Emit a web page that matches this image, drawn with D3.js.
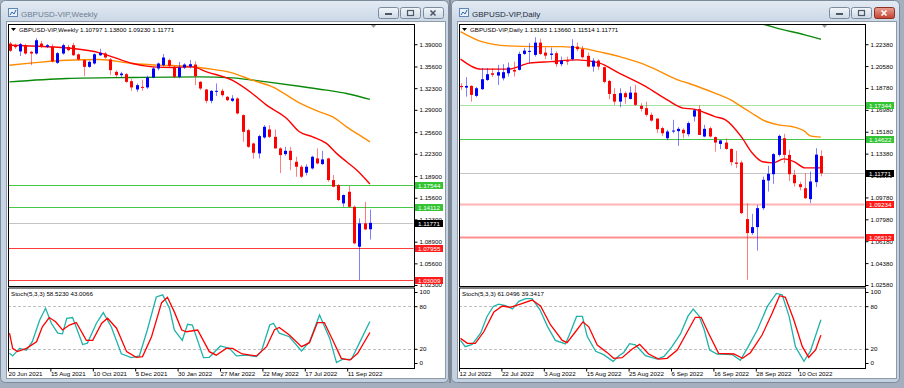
<!DOCTYPE html>
<html>
<head>
<meta charset="utf-8">
<script src="https://cdn.jsdelivr.net/npm/d3@7"></script>
<style>
html, body { margin: 0; padding: 0; background: #a3afbe; }
svg { display: block; }
text { font-family: "Liberation Sans", Arial, sans-serif; }
</style>
</head>
<body>
<script>
// ---- weekly GBPUSD bars: open, high, low, close ----
var weeklyBars = [
  [1.3910,1.3935,1.3783,1.3800],[1.3885,1.3910,1.3830,1.3855],[1.3790,1.3920,1.3720,1.3900],[1.3885,1.3905,1.3740,1.3758],
  [1.3783,1.3800,1.3580,1.3758],[1.3758,1.3990,1.3740,1.3960],[1.3910,1.3950,1.3840,1.3870],[1.3860,1.3905,1.3840,1.3885],
  [1.3859,1.3900,1.3620,1.3640],[1.3616,1.3780,1.3600,1.3763],[1.3758,1.3910,1.3740,1.3885],[1.3859,1.3890,1.3790,1.3809],
  [1.3885,1.3920,1.3720,1.3732],[1.3745,1.3760,1.3650,1.3667],[1.3657,1.3670,1.3412,1.3555],[1.3555,1.3650,1.3540,1.3631],
  [1.3606,1.3760,1.3590,1.3747],[1.3732,1.3830,1.3720,1.3768],[1.3758,1.3780,1.3680,1.3697],[1.3667,1.3690,1.3428,1.3504],
  [1.3479,1.3500,1.3400,1.3428],[1.3428,1.3480,1.3390,1.3453],[1.3443,1.3460,1.3310,1.3326],[1.3337,1.3370,1.3189,1.3241],
  [1.3210,1.3300,1.3174,1.3276],[1.3250,1.3360,1.3190,1.3236],[1.3241,1.3420,1.3220,1.3393],[1.3393,1.3550,1.3380,1.3530],
  [1.3530,1.3620,1.3500,1.3606],[1.3580,1.3750,1.3560,1.3697],[1.3657,1.3680,1.3550,1.3570],[1.3555,1.3570,1.3380,1.3402],
  [1.3402,1.3630,1.3380,1.3545],[1.3545,1.3610,1.3520,1.3590],[1.3560,1.3660,1.3530,1.3595],[1.3590,1.3640,1.3276,1.3413],
  [1.3326,1.3340,1.3200,1.3225],[1.3210,1.3220,1.3000,1.3037],[1.3037,1.3200,1.3000,1.3189],[1.3180,1.3301,1.3110,1.3189],
  [1.3189,1.3220,1.3100,1.3123],[1.3098,1.3110,1.3030,1.3047],[1.3037,1.3123,1.3020,1.3073],[1.3073,1.3090,1.2830,1.2845],
  [1.2819,1.2830,1.2412,1.2565],[1.2590,1.2610,1.2320,1.2336],[1.2387,1.2400,1.2155,1.2245],[1.2235,1.2520,1.2159,1.2499],
  [1.2479,1.2667,1.2460,1.2641],[1.2601,1.2667,1.2470,1.2488],[1.2488,1.2600,1.2310,1.2312],[1.2312,1.2330,1.1935,1.2210],
  [1.2225,1.2336,1.2200,1.2275],[1.2275,1.2336,1.1981,1.2134],[1.2108,1.2184,1.1880,1.2032],[1.2032,1.2060,1.1860,1.1880],
  [1.1941,1.2070,1.1900,1.2032],[1.2007,1.2200,1.1990,1.2184],[1.2159,1.2312,1.2070,1.2083],[1.2073,1.2275,1.2060,1.2144],
  [1.2159,1.2170,1.1804,1.1829],[1.1829,1.1906,1.1720,1.1727],[1.1753,1.1770,1.1510,1.1525],[1.1474,1.1610,1.1422,1.1601],
  [1.1651,1.1738,1.1410,1.1422],[1.1422,1.1440,1.0850,1.0865],[1.0813,1.1245,1.0306,1.1169],[1.1169,1.1498,1.1067,1.1078],
  [1.10797,1.13800,1.09230,1.11771]
];

// ---- daily GBPUSD bars: open, high, low, close ----
var dailyBars = [
  [1.1895,1.1917,1.1862,1.1885],[1.1881,1.1967,1.1807,1.1895],[1.1895,1.1901,1.1766,1.1821],[1.1813,1.1887,1.1802,1.1876],
  [1.1868,1.2041,1.1862,1.1950],[1.1944,1.2041,1.1936,1.1991],[1.1999,1.2041,1.1969,1.1986],[1.1980,1.2068,1.1903,1.2008],
  [1.1958,1.2074,1.1940,1.2008],[1.1999,1.2087,1.1972,1.2046],[1.2027,1.2095,1.1972,1.2013],[1.2027,1.2177,1.2021,1.2158],
  [1.2158,1.2206,1.2150,1.2185],[1.2177,1.2246,1.2082,1.2183],[1.2150,1.2295,1.2136,1.2251],[1.2251,1.2284,1.2150,1.2158],
  [1.2169,1.2213,1.2115,1.2144],[1.2150,1.2210,1.2109,1.2161],[1.2164,1.2180,1.2052,1.2074],[1.2074,1.2136,1.2057,1.2103],
  [1.2103,1.2136,1.2068,1.2095],[1.2115,1.2279,1.2103,1.2224],[1.2218,1.2252,1.2180,1.2197],[1.2197,1.2224,1.2120,1.2131],
  [1.2142,1.2169,1.2049,1.2054],[1.2054,1.2123,1.2013,1.2103],[1.2103,1.2115,1.2027,1.2054],[1.2049,1.2054,1.1917,1.1928],
  [1.1936,1.1945,1.1786,1.1829],[1.1829,1.1876,1.1739,1.1766],[1.1766,1.1876,1.1720,1.1835],[1.1835,1.1849,1.1748,1.1802],
  [1.1788,1.1890,1.1783,1.1840],[1.1840,1.1904,1.1731,1.1739],[1.1731,1.1753,1.1684,1.1706],[1.1712,1.1766,1.1643,1.1657],
  [1.1657,1.1676,1.1602,1.1610],[1.1626,1.1629,1.1506,1.1539],[1.1548,1.1561,1.1484,1.1506],[1.1465,1.1534,1.1449,1.1520],
  [1.1520,1.1616,1.1506,1.1528],[1.1523,1.1556,1.1402,1.1542],[1.1534,1.1547,1.1465,1.1506],[1.1498,1.1602,1.1479,1.1589],
  [1.1643,1.1704,1.1602,1.1695],[1.1704,1.1737,1.1492,1.1492],[1.1479,1.1575,1.1473,1.1542],[1.1547,1.1560,1.1470,1.1479],
  [1.1474,1.1479,1.1355,1.1429],[1.1418,1.1451,1.1375,1.1446],[1.1429,1.1462,1.1369,1.1377],[1.1377,1.1380,1.1240,1.1268],
  [1.1265,1.1361,1.1219,1.1254],[1.1265,1.1281,1.0840,1.0849],[1.0800,1.0930,1.0301,1.0685],[1.0685,1.0843,1.0670,1.0734],
  [1.0734,1.0917,1.0541,1.0890],[1.0890,1.1150,1.0876,1.1123],[1.1117,1.1238,1.1026,1.1172],[1.1169,1.1342,1.1090,1.1334],
  [1.1328,1.1495,1.1314,1.1484],[1.1465,1.1501,1.1260,1.1328],[1.1328,1.1369,1.1114,1.1169],[1.1164,1.1205,1.1068,1.1095],
  [1.1087,1.1106,1.1036,1.1063],[1.1054,1.1178,1.0964,1.0972],[1.0964,1.1191,1.0931,1.1109],[1.1104,1.1383,1.1063,1.1330],
  [1.13183,1.13660,1.11514,1.11771]
];

// moving averages: [bar index, price]
var weeklyMaFast = [[0,1.3885],[12,1.3834],[17,1.3768],[19.4,1.3707],[23.2,1.3606],[27,1.3555],[30.8,1.3545],[34.5,1.3555],
  [37.2,1.3479],[42,1.3352],[45.8,1.3149],[48.5,1.2971],[52.3,1.2769],[54.7,1.2565],[57.2,1.2488],[59.8,1.2388],
  [61.7,1.2236],[63.6,1.2108],[65.5,1.1981],[68,1.1768]];
var weeklyMaMid = [[0,1.3580],[4.4,1.3615],[10.8,1.3656],[17,1.3667],[23.2,1.3606],[28.3,1.3580],[33.4,1.3565],[37.2,1.3530],
  [42,1.3463],[45.8,1.3352],[49.6,1.3250],[54.7,1.3006],[58.5,1.2869],[61,1.2793],[63.6,1.2641],[65.5,1.2540],[68,1.2412]];
var weeklyMaSlow = [[0,1.3326],[10.8,1.3378],[23.2,1.3393],[35.8,1.3402],[42,1.3387],[48.5,1.3326],[54.7,1.3260],
  [59.8,1.3200],[63.6,1.3149],[68,1.3058]];

var dailyMaFast = [[0,1.2115],[4,1.2033],[9,1.2033],[13,1.2082],[17,1.2095],[22,1.2109],[26,1.2087],[30,1.1999],[35,1.1889],
  [39,1.1780],[42,1.1712],[44,1.1704],[48,1.1643],[50,1.1616],[53,1.1476],[55,1.1345],[57,1.1271],[59,1.1262],
  [61,1.1295],[63,1.1271],[65,1.1221],[68,1.1221]];
var dailyMaMid = [[0,1.2342],[4,1.2259],[9,1.2224],[14,1.2218],[19,1.2218],[24,1.2197],[26,1.2177],[30,1.2136],[34,1.2082],
  [37,1.2027],[41,1.1945],[43,1.1917],[48,1.1835],[51,1.1780],[53,1.1725],[55,1.1670],[57,1.1616],[60,1.1575],
  [62.5,1.1561],[65,1.1520],[66,1.1484],[68,1.1474]];
var dailyMaSlow = [[54,1.2430],[56.8,1.2405],[61,1.2356],[63.8,1.2328],[65.7,1.2306],[68,1.2279]];

// stochastic (5,3,3): [bar index, value]
var weeklyStochMain = [[0,13.6],[0.6,10],[1.9,20.6],[3.2,18],[4.3,30],[5.7,60.6],[6.8,77],[7.9,56],[9.1,42],[10,41],
  [10.8,63],[11.9,64],[13.8,26],[14.7,28],[16.4,56],[17.7,71],[19.2,51],[21.1,13],[23,7.5],[24.5,10],[26,46.5],
  [27.7,93],[28.9,96],[30.2,77],[31.1,46.5],[32.6,32],[33.6,54.5],[34.5,53.5],[36.6,7.5],[37.7,8],[39.8,24],
  [41.5,20.6],[42.8,10],[44.7,11],[46.6,9],[47.5,16],[49.1,53.5],[49.8,56],[50.9,42],[52.8,37],[55.1,17],
  [56.6,30],[58.5,67.6],[60.4,35],[61.7,0.5],[62.8,5],[64.5,5],[66,28],[68,58.5]];
var weeklyStochSignal = [[0,42],[0.6,20.6],[1.5,16],[3.2,20.6],[5.1,30],[6.2,51],[7.5,64],[8.7,58],[10,46.5],[11.3,53.5],
  [12.6,57],[14.5,32],[15.7,32],[17.4,56],[18.5,63],[20.2,49],[22.1,16],[23.9,8],[25.1,9],[26.8,37],[28.7,85],
  [29.8,92.5],[31.1,72],[32.5,46.5],[33.4,44],[35.5,46.5],[37.7,16],[39,11],[40.9,20.6],[42.1,20.6],[43.9,12.7],
  [46.6,10],[48.5,23],[50,47],[50.9,50],[52.8,39.4],[55.1,23],[56.6,28.6],[58.1,57],[59.4,57],[61,32],[62.6,6.6],
  [64.2,4],[65.7,13.6],[68,43]];
var dailyStochMain = [[0,32],[0.9,23],[2.2,26.3],[3.8,42],[5,65.6],[6.2,79.7],[7.2,83],[8.5,80.7],[9.8,76],[11,86.8],
  [12.3,90.6],[13.5,90.6],[15,75],[16.4,51.6],[17.9,31.8],[19.8,26.8],[20.8,44.5],[21.9,65.6],[23,65.6],[23.9,37.5],
  [25.5,16.4],[27,11.7],[28.8,2.3],[29.9,10.3],[30.8,14.9],[31.9,27.2],[33,25.4],[34.9,10.3],[37.1,5.6],[38.4,9.3],
  [39.9,23],[41.5,41],[42.9,65.6],[43.9,76],[45,66.6],[46,46.5],[47,18.3],[48.4,12.7],[51.3,11.7],[52.8,3.7],
  [54.1,20.6],[56,46.5],[57.9,79.7],[59.6,98],[60.7,96],[62,65.6],[63.2,23],[64.8,2.3],[66,16.4],[68,61.0]];
var dailyStochSignal = [[0,34.7],[1.3,27.7],[2.8,27.7],[4.4,44],[6.3,72],[7.9,80.3],[9.4,78.4],[11.3,83],[13.5,88.7],
  [15.1,80.3],[17,53.5],[19.2,31.8],[20.1,28.6],[21.7,44],[23.1,58],[24.2,51],[25.8,25.4],[27.7,14.6],[28.9,6.6],
  [30.5,7.5],[32.4,19.7],[33.8,26.3],[35.5,12.7],[37.4,5.6],[39,6.6],[40.9,18.3],[42.8,44],[44.3,64.4],[45.4,64.4],
  [46.8,41.8],[48.7,13.6],[51.6,12.7],[53.2,6.6],[54.7,14.5],[56.9,39.4],[58.8,70],[60.2,94.8],[61.3,92.5],
  [62.9,60.6],[64.5,23],[65.7,8],[67,18.3],[68,39.3]];
var weeklyStochReadout = [58.5230, 43.0066];
var dailyStochReadout = [61.0496, 39.3417];

// axis labels
var weeklyDateBars = [0, 8, 16, 24, 32, 40, 48, 56, 64];
var weeklyDates = ["20 Jun 2021", "15 Aug 2021", "10 Oct 2021", "5 Dec 2021", "30 Jan 2022",
  "27 Mar 2022", "22 May 2022", "17 Jul 2022", "11 Sep 2022"];
var dailyDateBars = [0, 8, 16, 24, 32, 40, 48, 56, 64];
var dailyDates = ["12 Jul 2022", "22 Jul 2022", "3 Aug 2022", "15 Aug 2022", "25 Aug 2022",
  "6 Sep 2022", "16 Sep 2022", "28 Sep 2022", "10 Oct 2022"];
var weeklyPriceTicks = [1.39, 1.356, 1.323, 1.29, 1.256, 1.223, 1.189, 1.156, 1.123, 1.089, 1.056, 1.023];
var dailyPriceTicks = [1.2238, 1.2058, 1.1878, 1.1698, 1.1518, 1.1338, 1.1158, 1.0978, 1.0798, 1.0618, 1.0438, 1.0258];
var stochTicks = [100, 80, 20, 0];
var stochLevels = [80, 20];

// horizontal levels
var weeklyGreenLevels = [1.17544, 1.14112];
var weeklyRedLevels = [1.07955, 1.03009];
var dailyGreenLevels = [1.17344, 1.14622];
var dailyRedLevels = [1.09234, 1.06512];
var lastPrice = 1.11771;

var svgWidth = 904, svgHeight = 388;
var svg = d3.select("body").append("svg")
  .attr("width", svgWidth)
  .attr("height", svgHeight);

var defs = svg.append("defs");
var grad = defs.append("linearGradient").attr("id", "frameGrad")
  .attr("x1", 0).attr("y1", 0).attr("x2", 0).attr("y2", 1);
grad.append("stop").attr("offset", 0).attr("stop-color", "#e3ebf4");
grad.append("stop").attr("offset", 0.06).attr("stop-color", "#c9d6e5");
grad.append("stop").attr("offset", 1).attr("stop-color", "#c3d1e1");
var btnGrad = defs.append("linearGradient").attr("id", "btnGrad")
  .attr("x1", 0).attr("y1", 0).attr("x2", 0).attr("y2", 1);
btnGrad.append("stop").attr("offset", 0).attr("stop-color", "#f2f6fa");
btnGrad.append("stop").attr("offset", 1).attr("stop-color", "#cdd9e6");
var redGrad = defs.append("linearGradient").attr("id", "redGrad")
  .attr("x1", 0).attr("y1", 0).attr("x2", 0).attr("y2", 1);
redGrad.append("stop").attr("offset", 0).attr("stop-color", "#e8a093");
redGrad.append("stop").attr("offset", 1).attr("stop-color", "#c4402f");

var fmt5 = d3.format(".5f");

// window frame, title bar and buttons
function drawFrame(ox, title, active) {
  var g = svg.append("g");
  g.append("rect").attr("x", ox + 0.5).attr("y", 0.5).attr("width", 448).attr("height", 382)
    .attr("rx", 5).attr("fill", "url(#frameGrad)").attr("stroke", "#7d8a99");
  g.append("rect").attr("x", ox + 6.5).attr("y", 21.5).attr("width", 439).attr("height", 357)
    .attr("fill", "#fff").attr("stroke", "#8e9aa8");
  // icon
  g.append("rect").attr("x", ox + 8.5).attr("y", 8.5).attr("width", 9).attr("height", 8)
    .attr("fill", "#e8f0fa").attr("stroke", "#5f86b5");
  g.append("path").attr("d", `M${ox + 10},${15} l2,-3 l2,2 l2,-4`).attr("fill", "none")
    .attr("stroke", "#2d62a8").attr("stroke-width", 1);
  g.append("text").attr("x", ox + 21).attr("y", 16.5).attr("font-size", 8)
    .attr("font-family", "'Liberation Sans', Arial, sans-serif")
    .attr("fill", active ? "#1e2c3c" : "#6e7e91").text(title);
  var bx = [ox + 378, ox + 400, ox + 423];
  bx.forEach(function (x, i) {
    var red = active && i === 2;
    g.append("rect").attr("x", x + 0.5).attr("y", 7.5).attr("width", 20).attr("height", 11).attr("rx", 2)
      .attr("fill", red ? "url(#redGrad)" : "url(#btnGrad)").attr("stroke", red ? "#8b3027" : "#7c8a9a");
    var ink = red ? "#fff" : "#4d5866";
    if (i === 0) {
      g.append("rect").attr("x", x + 7).attr("y", 13).attr("width", 7).attr("height", 2).attr("fill", ink);
    } else if (i === 1) {
      g.append("rect").attr("x", x + 7.5).attr("y", 10.5).attr("width", 6).attr("height", 5)
        .attr("fill", "none").attr("stroke", ink).attr("stroke-width", 1.2);
    } else {
      g.append("path").attr("d", `M${x + 7.5},${10.5} l5,5 M${x + 12.5},${10.5} l-5,5`)
        .attr("stroke", ink).attr("stroke-width", 1.6);
    }
  });
}

function drawChart(cfg) {
  var ox = cfg.ox;
  var pl = ox + 8, pr = ox + 414;
  var mainTop = 24, mainBottom = 286, stTop = 287.5, stBottom = 368;
  var g = svg.append("g");

  var x = d3.scaleLinear().domain([0, 68]).range([ox + 9.5, ox + 369.9]);
  var y = d3.scaleLinear().domain(cfg.yDomain).range([285, 44.2]);
  var ys = d3.scaleLinear().domain([0, 100]).range([363, 292]);

  var clipMain = "clipMain" + ox, clipSt = "clipSt" + ox;
  defs.append("clipPath").attr("id", clipMain).append("rect")
    .attr("x", pl + 0.5).attr("y", mainTop + 0.5).attr("width", pr - pl - 1).attr("height", mainBottom - mainTop - 1);
  defs.append("clipPath").attr("id", clipSt).append("rect")
    .attr("x", pl + 0.5).attr("y", stTop + 0.5).attr("width", pr - pl - 1).attr("height", stBottom - stTop - 1);

  var main = g.append("g").attr("clip-path", `url(#${clipMain})`);

  // level lines
  cfg.green.forEach(function (v, i) {
    main.append("line").attr("x1", pl).attr("x2", pr).attr("y1", Math.round(y(v)) + 0.5).attr("y2", Math.round(y(v)) + 0.5)
      .attr("stroke", cfg.greenLine[i]).attr("stroke-width", 1.2);
  });
  cfg.red.forEach(function (v, i) {
    main.append("line").attr("x1", pl).attr("x2", pr).attr("y1", Math.round(y(v)) + 0.5).attr("y2", Math.round(y(v)) + 0.5)
      .attr("stroke", cfg.redLine[i]).attr("stroke-width", cfg.redWidth);
  });
  main.append("line").attr("x1", pl).attr("x2", pr).attr("y1", Math.round(y(lastPrice)) + 0.5).attr("y2", Math.round(y(lastPrice)) + 0.5)
    .attr("stroke", "#c4c4c4").attr("stroke-width", 1);

  // moving averages
  var maLine = d3.line().x(d => x(d[0])).y(d => y(d[1])).curve(d3.curveMonotoneX);
  [[cfg.maSlow, "#0a8a0a"], [cfg.maMid, "#ff8c00"], [cfg.maFast, "#ff0000"]].forEach(function (m) {
    main.append("path").attr("d", maLine(m[0])).attr("fill", "none").attr("stroke", m[1]).attr("stroke-width", 1.4);
  });

  // candles
  var candles = main.selectAll("g.candle").data(cfg.bars).enter().append("g").attr("class", "candle");
  candles.append("line")
    .attr("x1", (d, i) => Math.round(x(i)) + 0.5).attr("x2", (d, i) => Math.round(x(i)) + 0.5)
    .attr("y1", d => y(d[1])).attr("y2", d => y(d[2]))
    .attr("stroke", d => d[3] >= d[0] ? "#0000ff" : "#ff0000")
    .attr("stroke-opacity", 0.5).attr("stroke-width", 1);
  candles.append("rect")
    .attr("x", (d, i) => Math.round(x(i)) - 1)
    .attr("width", 3)
    .attr("y", d => y(Math.max(d[0], d[3])))
    .attr("height", d => Math.max(1, Math.abs(y(d[0]) - y(d[3]))))
    .attr("fill", d => d[3] >= d[0] ? "#0000ff" : "#ff0000");

  // stochastic
  var st = g.append("g").attr("clip-path", `url(#${clipSt})`);
  stochLevels.forEach(function (v) {
    st.append("line").attr("x1", pl).attr("x2", pr).attr("y1", Math.round(ys(v)) + 0.5).attr("y2", Math.round(ys(v)) + 0.5)
      .attr("stroke", "#c0c0c0").attr("stroke-dasharray", "3,2");
  });
  var stLine = d3.line().x(d => x(d[0])).y(d => ys(d[1]));
  st.append("path").attr("d", stLine(cfg.stMain)).attr("fill", "none").attr("stroke", "#20b2aa").attr("stroke-width", 1.3);
  st.append("path").attr("d", stLine(cfg.stSignal)).attr("fill", "none").attr("stroke", "#ff0000").attr("stroke-width", 1.3);

  // panel borders
  g.append("rect").attr("x", pl + 0.5).attr("y", mainTop + 0.5).attr("width", pr - pl).attr("height", mainBottom - mainTop)
    .attr("fill", "none").attr("stroke", "#000");
  g.append("rect").attr("x", pl + 0.5).attr("y", stTop + 0.5).attr("width", pr - pl).attr("height", stBottom - stTop)
    .attr("fill", "none").attr("stroke", "#000");

  // price axis
  var yAxis = g.append("g").attr("transform", `translate(${pr + 0.5},0)`)
    .call(d3.axisRight(y).tickValues(cfg.priceTicks).tickFormat(fmt5).tickSize(3).tickPadding(2));
  yAxis.select(".domain").remove();
  yAxis.selectAll("text").attr("font-size", 6.2).attr("font-family", "'Liberation Sans', Arial, sans-serif").attr("fill", "#000");
  yAxis.selectAll("line").attr("stroke", "#000");

  var sAxis = g.append("g").attr("transform", `translate(${pr + 0.5},0)`)
    .call(d3.axisRight(ys).tickValues(stochTicks).tickSize(3).tickPadding(2));
  sAxis.select(".domain").remove();
  sAxis.selectAll("text").attr("font-size", 6.2).attr("font-family", "'Liberation Sans', Arial, sans-serif").attr("fill", "#000");
  sAxis.selectAll("line").attr("stroke", "#000");

  // time axis
  var tAxis = g.append("g").attr("transform", `translate(0,${stBottom + 0.5})`)
    .call(d3.axisBottom(x).tickValues(cfg.dateBars).tickFormat((d, i) => cfg.dates[i]).tickSize(3).tickPadding(2));
  tAxis.select(".domain").remove();
  tAxis.selectAll("line").attr("stroke", "#000").attr("transform", "translate(-1.5,0)");
  tAxis.selectAll("text").attr("text-anchor", "start").attr("x", -1.5).attr("y", 3.2)
    .attr("font-size", 6.2).attr("font-family", "'Liberation Sans', Arial, sans-serif").attr("fill", "#000");

  // level boxes on price axis
  function box(v, fill) {
    var yy = Math.round(y(v)) + 0.5;
    g.append("rect").attr("x", pr + 1).attr("y", yy - 3.5).attr("width", 28).attr("height", 7).attr("fill", fill);
    g.append("text").attr("x", pr + 4).attr("y", yy + 2.3).attr("font-size", 6.2).attr("fill", "#fff").text(fmt5(v));
  }
  cfg.green.forEach(v => box(v, "#32c432"));
  cfg.red.forEach(v => box(v, "#ff1a1a"));
  box(lastPrice, "#000");

  // headers
  var last = cfg.bars[cfg.bars.length - 1];
  g.append("path").attr("d", `M${pl + 3},${28} h5 l-2.5,3 z`).attr("fill", "#000");
  g.append("text").attr("x", pl + 11).attr("y", 32).attr("font-size", 6.2).attr("fill", "#000")
    .text(cfg.name + "  " + last.map(fmt5).join(" "));
  g.append("path").attr("d", `M${ox + 371},${25} h5 l-2.5,3 z`).attr("fill", "#9a9a9a");
  g.append("text").attr("x", pl + 3).attr("y", 296).attr("font-size", 6.2).attr("fill", "#000")
    .text("Stoch(5,3,3) " + cfg.stReadout.map(d3.format(".4f")).join(" "));
}

// MDI separator
svg.append("rect").attr("x", 449).attr("y", 0).attr("width", 2).attr("height", 383).attr("fill", "#7f8894");

drawFrame(0, "GBPUSD-VIP,Weekly", false);
drawFrame(451, "GBPUSD-VIP,Daily", true);

drawChart({
  ox: 0, name: "GBPUSD-VIP,Weekly", bars: weeklyBars, yDomain: [1.023, 1.39],
  priceTicks: weeklyPriceTicks, green: weeklyGreenLevels, red: weeklyRedLevels,
  greenLine: ["#46c846", "#46c846"], redLine: ["#ff3a3a", "#ff3a3a"], redWidth: 1.2,
  maFast: weeklyMaFast, maMid: weeklyMaMid, maSlow: weeklyMaSlow,
  stMain: weeklyStochMain, stSignal: weeklyStochSignal, stReadout: weeklyStochReadout,
  dateBars: weeklyDateBars, dates: weeklyDates
});
drawChart({
  ox: 451, name: "GBPUSD-VIP,Daily", bars: dailyBars, yDomain: [1.0258, 1.2238],
  priceTicks: dailyPriceTicks, green: dailyGreenLevels, red: dailyRedLevels,
  greenLine: ["#a6e4a6", "#46c846"], redLine: ["#ffb4b4", "#ff9090"], redWidth: 1.8,
  maFast: dailyMaFast, maMid: dailyMaMid, maSlow: dailyMaSlow,
  stMain: dailyStochMain, stSignal: dailyStochSignal, stReadout: dailyStochReadout,
  dateBars: dailyDateBars, dates: dailyDates
});
</script>
</body>
</html>
